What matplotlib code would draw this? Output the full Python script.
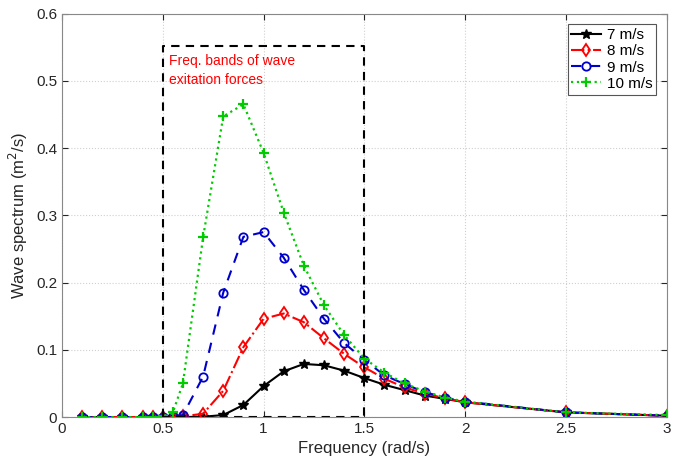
import numpy as np
import matplotlib
matplotlib.use("Agg")
import matplotlib.pyplot as plt

plt.rcParams['font.family'] = ['Liberation Sans', 'DejaVu Sans']

# Frequencies (rad/s)
freq = [0.1, 0.2, 0.3, 0.4, 0.45, 0.5, 0.55, 0.6, 0.7, 0.8, 0.9, 1.0,
        1.1, 1.2, 1.3, 1.4, 1.5, 1.6, 1.7, 1.8, 1.9, 2.0, 2.5, 3.0]

# Wave spectrum (m^2/s) per wind speed
s7 = [0, 0, 0, 0, 0, 0, 0, 0, 0.0005, 0.003, 0.018, 0.046,
      0.068, 0.079, 0.077, 0.069, 0.058, 0.048, 0.040, 0.032, 0.027, 0.022, 0.007, 0.002]
s8 = [0, 0, 0, 0, 0, 0, 0, 0.001, 0.005, 0.039, 0.104, 0.146,
      0.154, 0.141, 0.117, 0.094, 0.074, 0.057, 0.044, 0.035, 0.028, 0.022, 0.007, 0.002]
s9 = [0, 0, 0, 0, 0, 0, 0.001, 0.003, 0.060, 0.185, 0.268, 0.275,
      0.237, 0.189, 0.146, 0.110, 0.085, 0.062, 0.049, 0.037, 0.029, 0.023, 0.007, 0.002]
s10 = [0, 0, 0, 0, 0, 0.001, 0.007, 0.050, 0.267, 0.447, 0.465, 0.393,
       0.304, 0.225, 0.166, 0.122, 0.087, 0.066, 0.050, 0.038, 0.029, 0.023, 0.007, 0.003]

labels = ['7 m/s', '8 m/s', '9 m/s', '10 m/s']

# frequency band box
band_lo, band_hi, band_top = 0.5, 1.5, 0.552

fig = plt.figure(figsize=(6.81, 4.66), dpi=100)
ax = fig.add_axes([0.091, 0.105, 0.888, 0.866])

ax.plot(freq, s7, color='black', linestyle='-', marker='*', markersize=7, lw=1.5, label=labels[0])
ax.plot(freq, s8, color='red', linestyle='-.', marker='d', markersize=6, lw=1.5,
        markerfacecolor='none', markeredgewidth=1.3, label=labels[1])
ax.plot(freq, s9, color='#0000cc', linestyle='--', marker='o', markersize=6, lw=1.5,
        markerfacecolor='none', markeredgewidth=1.3, dashes=(5, 4), label=labels[2])
ax.plot(freq, s10, color='#00cc00', linestyle=':', marker='+', markersize=7, lw=1.6,
        markeredgewidth=1.6, label=labels[3])

ax.plot([band_lo, band_lo, band_hi, band_hi, band_lo],
        [0, band_top, band_top, 0, 0], color='black', linestyle='--', lw=1.5, dashes=(4, 3))
ax.text(band_lo + 0.03, band_top - 0.012, 'Freq. bands of wave\nexitation forces',
        color='red', fontsize=10, va='top', ha='left', linespacing=1.5)

ax.set_xlim(0, 3)
ax.set_ylim(0, 0.6)
ax.set_xticks([0, 0.5, 1, 1.5, 2, 2.5, 3])
ax.set_xticklabels(['0', '0.5', '1', '1.5', '2', '2.5', '3'])
ax.set_yticks([0, 0.1, 0.2, 0.3, 0.4, 0.5, 0.6])
ax.set_yticklabels(['0', '0.1', '0.2', '0.3', '0.4', '0.5', '0.6'])
ax.grid(True, color='#d0d0d0', linestyle=':', lw=0.8)
ax.tick_params(direction='in', labelsize=11, colors='#262626', length=4, top=True, right=True)
for sp in ax.spines.values():
    sp.set_color('#888888')

ax.set_xlabel('Frequency (rad/s)', fontsize=12, color='#262626')
ax.set_ylabel('Wave spectrum (m$^2$/s)', fontsize=12, color='#262626')

leg = ax.legend(loc='upper right', fontsize=11, handlelength=1.9, numpoints=1, fancybox=False,
                framealpha=1, edgecolor='#555555', borderpad=0.25, labelspacing=0.15,
                handletextpad=0.4, borderaxespad=0.3, bbox_to_anchor=(0.99, 0.985))
leg.get_frame().set_linewidth(0.8)

fig.savefig('out.png', dpi=100)
